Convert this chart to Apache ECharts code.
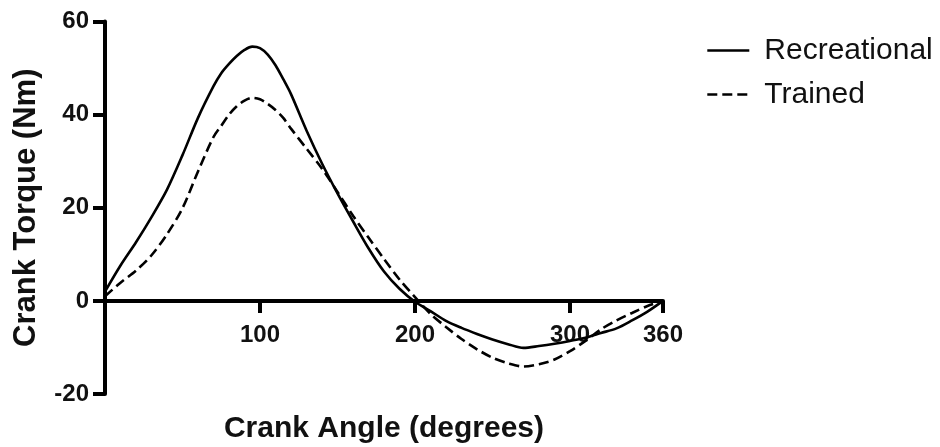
<!DOCTYPE html>
<html>
<head>
<meta charset="utf-8">
<script src="https://cdn.jsdelivr.net/npm/echarts@6/dist/echarts.min.js"></script>
<style>
html,body{margin:0;padding:0;background:#fff;}
#chart{width:940px;height:447px;}
</style>
</head>
<body>
<div id="chart"></div>
<script>
const angles = [0,10,20,30,40,50,60,70,75,80,85,90,95,100,105,110,115,120,130,140,150,160,170,180,190,200,210,220,230,240,250,260,270,280,290,300,310,320,330,340,350,360];
const recreational = [2,7.6,12.6,18,23.9,31.3,39.3,46.1,48.9,50.9,52.6,53.9,54.6,54.3,52.9,50.6,47.6,44.4,36.6,29.5,23.1,17.1,11.3,6.3,2.6,-0.2,-2.2,-4.3,-5.8,-7.1,-8.3,-9.3,-10.1,-9.7,-9.2,-8.6,-7.9,-6.9,-5.9,-4.2,-2.3,0];
const trained = [1,3.9,6.5,9.8,14.3,19.9,27.8,35.2,37.6,40,41.8,43,43.6,43.3,42.3,41,39.3,37,32.7,28.4,23.4,18.3,13.6,9,4.6,0.8,-2.8,-5.6,-8.2,-10.4,-12.2,-13.4,-14.1,-13.6,-12.6,-10.8,-8.6,-6.1,-4.2,-2.6,-1.1,0];
const xTicks = [100,200,300,360];
const yTicks = [-20,0,20,40,60];
const seriesNames = ['Recreational','Trained'];

const pairs = (vals) => angles.map((a,i) => [a, vals[i]]);
const chart = echarts.init(document.getElementById('chart'), null, {renderer:'canvas'});
const fontFam = '"Liberation Sans", Arial, Helvetica, sans-serif';
chart.setOption({
  animation:false,
  backgroundColor:'#ffffff',
  grid:{left:105, right:277, top:21.5, bottom:53, containLabel:false, outerBoundsMode:'none'},
  legend:{
    orient:'vertical', left:701, top:30.5,
    itemWidth:42, itemHeight:29, itemGap:14,
    data:seriesNames,
    itemStyle:{opacity:0},
    lineStyle:{width:2.6},
    textStyle:{fontFamily:fontFam, fontSize:30, color:'#111', padding:[0,0,0,10]}
  },
  xAxis:{
    type:'value', min:0, max:360,
    name:'Crank Angle (degrees)', nameLocation:'middle', nameGap:20,
    nameTextStyle:{fontFamily:fontFam, fontSize:30, fontWeight:'bold', color:'#111'},
    axisLine:{onZero:true, lineStyle:{color:'#000', width:4}},
    axisTick:{show:true, length:12, lineStyle:{color:'#000', width:4}, customValues:xTicks},
    axisLabel:{customValues:xTicks, margin:-71, fontFamily:fontFam, fontSize:24, fontWeight:'bold', color:'#111'},
    splitLine:{show:false}
  },
  yAxis:{
    type:'value', min:-20, max:60, interval:20,
    name:'Crank Torque (Nm)', nameLocation:'middle', nameGap:63,
    nameTextStyle:{fontFamily:fontFam, fontSize:31, fontWeight:'bold', color:'#111'},
    axisLine:{show:true, lineStyle:{color:'#000', width:4}},
    axisTick:{show:true, length:12, lineStyle:{color:'#000', width:4}, customValues:yTicks},
    axisLabel:{customValues:yTicks, margin:16, fontFamily:fontFam, fontSize:24, fontWeight:'bold', color:'#111'},
    splitLine:{show:false}
  },
  series:[
    {name:seriesNames[0], type:'line', data:pairs(recreational), smooth:0.3, symbol:'none',
     lineStyle:{color:'#000', width:2.6, type:'solid'}, itemStyle:{color:'#000'}, z:3},
    {name:seriesNames[1], type:'line', data:pairs(trained), smooth:0.3, symbol:'none',
     lineStyle:{color:'#000', width:2.6, type:[10,5]}, itemStyle:{color:'#000'}, z:3}
  ]
});
</script>
</body>
</html>
